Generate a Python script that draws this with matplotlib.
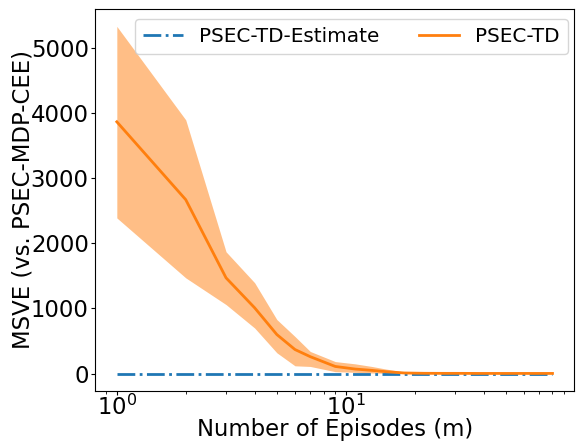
import matplotlib
matplotlib.use("Agg")
import matplotlib.pyplot as plt
import numpy as np

episodes = [1, 2, 3, 4, 5, 6, 7, 9, 11, 13, 15, 18, 22, 27, 32, 38, 46, 55, 66, 80]
td_mean = [3865, 2670, 1470, 1010, 600, 370, 260, 110, 70, 50, 30, 10, 5, 4, 4, 3, 3, 3, 3, 3]
td_upper = [5330, 3895, 1870, 1395, 830, 570, 340, 185, 150, 110, 70, 25, 10, 8, 7, 6, 6, 5, 5, 5]
td_lower = [2390, 1470, 1060, 700, 320, 120, 110, 30, 20, 10, 5, 1, 1, 1, 1, 1, 1, 1, 1, 1]
estimate = [0] * len(episodes)

fig = plt.figure(figsize=(5.76, 4.41), dpi=100)
ax = fig.add_axes([0.165, 0.1134, 0.832, 0.8662])

ax.plot(episodes, estimate, linestyle='-.', color='C0', linewidth=2, label='PSEC-TD-Estimate')
ax.plot(episodes, td_mean, color='C1', linewidth=2, label='PSEC-TD')
ax.fill_between(episodes, td_lower, td_upper, color='C1', alpha=0.5, linewidth=0)
ax.set_xscale('log')

ax.set_xlabel('Number of Episodes (m)', fontsize=16.4, labelpad=-1.5)
ax.set_ylabel('MSVE (vs. PSEC-MDP-CEE)', fontsize=16.4, labelpad=-3)
ax.tick_params(axis='both', which='major', labelsize=16.4, length=3, pad=1.5)
ax.tick_params(axis='x', which='major', pad=0)
ax.tick_params(axis='both', which='minor', length=2)
ax.legend(loc='upper center', ncol=2, fontsize=14.4, bbox_to_anchor=(0.535, 1.0))

fig.savefig('out.png', dpi=100)
